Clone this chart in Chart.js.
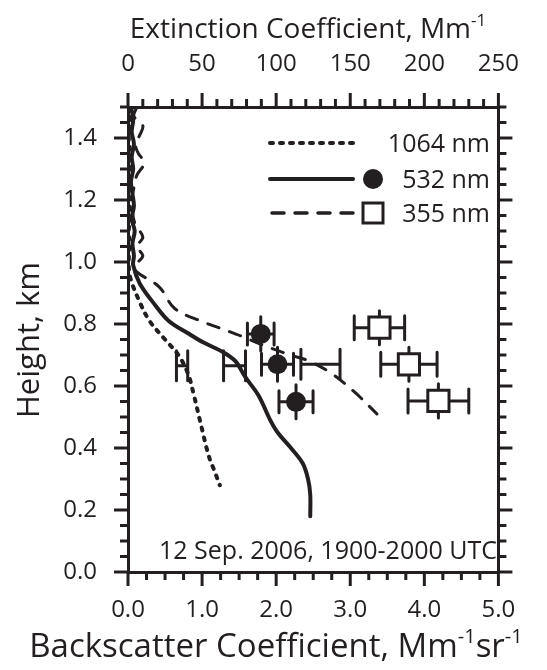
<!DOCTYPE html>
<html>
<head>
<meta charset="utf-8">
<script src="https://cdn.jsdelivr.net/npm/chart.js@4.4.0/dist/chart.umd.min.js"></script>
<style>
  html, body { margin: 0; padding: 0; background: #fff; }
  #wrap { width: 547px; height: 670px; }
</style>
</head>
<body>
<div id="wrap"><canvas id="profileChart"></canvas></div>
<script>
// backscatter profiles (Mm-1 sr-1) vs height (km)
const heights1064 = [1.50, 1.45, 1.40, 1.35, 1.30, 1.25, 1.20, 1.15, 1.10, 1.05, 1.00, 0.95, 0.87, 0.81, 0.75, 0.70, 0.64, 0.57, 0.49, 0.45, 0.40, 0.36, 0.33, 0.28];
const back1064 = [0.02, 0.03, 0.01, 0.03, 0.02, 0.01, 0.02, 0.03, 0.01, 0.02, 0.01, 0.03, 0.16, 0.29, 0.50, 0.68, 0.81, 0.89, 0.97, 1.01, 1.06, 1.11, 1.16, 1.24];

const heights532 = [1.50, 1.46, 1.42, 1.38, 1.34, 1.30, 1.26, 1.22, 1.18, 1.14, 1.10, 1.06, 1.02, 0.99, 0.93, 0.86, 0.81, 0.77, 0.74, 0.71, 0.68, 0.63, 0.57, 0.49, 0.45, 0.40, 0.35, 0.30, 0.25, 0.18];
const back532 = [0.04, 0.07, 0.05, 0.08, 0.05, 0.07, 0.04, 0.06, 0.08, 0.05, 0.09, 0.06, 0.08, 0.07, 0.16, 0.37, 0.55, 0.81, 1.02, 1.28, 1.45, 1.58, 1.76, 1.92, 2.02, 2.20, 2.36, 2.43, 2.46, 2.46];

const heights355 = [1.50, 1.47, 1.44, 1.41, 1.38, 1.35, 1.32, 1.28, 1.24, 1.20, 1.16, 1.12, 1.08, 1.05, 1.02, 0.99, 0.97, 0.92, 0.85, 0.81, 0.78, 0.76, 0.73, 0.70, 0.68, 0.64, 0.58, 0.51];
const back355 = [0.12, 0.08, 0.20, 0.16, 0.10, 0.14, 0.22, 0.12, 0.08, 0.05, 0.06, 0.10, 0.20, 0.12, 0.20, 0.10, 0.11, 0.42, 0.63, 0.98, 1.32, 1.54, 1.84, 2.19, 2.45, 2.75, 3.06, 3.36];

// extinction points (Mm-1) with errors
const ext532 = [89.6, 100.9, 113.4];
const h532 = [0.768, 0.670, 0.549];
const err532 = [9.0, 10.8, 11.5];

const ext355 = [169.7, 189.6, 209.5];
const h355 = [0.788, 0.670, 0.552];
const err355 = [17.0, 19.0, 20.5];

const ext1064 = [36.5, 71.9, 129.9];
const h1064 = [0.665, 0.665, 0.670];
const err1064 = [3.8, 7.4, 13.2];

const heightErr = 0.055;

const backTicks = [0, 1, 2, 3, 4, 5];
const extTicks = [0, 50, 100, 150, 200, 250];
const heightTicks = [0, 0.2, 0.4, 0.6, 0.8, 1.0, 1.2, 1.4];

const ink = '#231f20';
const fontFam = '"Open Sans", "DejaVu Sans", sans-serif';

function pts(xs, ys) {
    return xs.map((x, i) => ({ x: x, y: ys[i] }));
}

// superscript-aware text
function drawRich(ctx, parts, x, y, size, align) {
    const supSize = Math.round(size * 0.6);
    let total = 0;
    parts.forEach(p => {
        ctx.font = (p.sup ? supSize : size) + 'px ' + fontFam;
        p.w = ctx.measureText(p.t).width;
        total += p.w;
    });
    let cx = align === 'center' ? x - total / 2 : (align === 'right' ? x - total : x);
    parts.forEach(p => {
        ctx.font = (p.sup ? supSize : size) + 'px ' + fontFam;
        ctx.textAlign = 'left';
        ctx.textBaseline = 'alphabetic';
        ctx.fillText(p.t, cx, p.sup ? y - size * 0.42 : y);
        cx += p.w;
    });
}

function tickRow(ctx, scale, minor, major, side, area) {
    const n = Math.round((scale.max - scale.min) / minor);
    for (let i = 0; i <= n; i++) {
        const v = scale.min + i * minor;
        const r = v / major;
        const isMajor = Math.abs(r - Math.round(r)) < 1e-6;
        const len = isMajor ? 14 : 8;
        const p = scale.getPixelForValue(v);
        ctx.beginPath();
        if (side === 'bottom') { ctx.moveTo(p, area.bottom); ctx.lineTo(p, area.bottom + len); }
        if (side === 'top') { ctx.moveTo(p, area.top); ctx.lineTo(p, area.top - len); }
        if (side === 'left') { ctx.moveTo(area.left, p); ctx.lineTo(area.left - len, p); }
        if (side === 'right') { ctx.moveTo(area.right, p); ctx.lineTo(area.right + len, p); }
        ctx.stroke();
    }
}

const ticksPlugin = {
    id: 'ticksPlugin',
    afterDraw(chart) {
        const { ctx, chartArea: area, scales } = chart;
        ctx.save();
        ctx.strokeStyle = ink;
        ctx.lineWidth = 3;
        ctx.lineCap = 'butt';
        tickRow(ctx, scales.x, 0.25, 1, 'bottom', area);
        tickRow(ctx, scales.x2, 10, 50, 'top', area);
        tickRow(ctx, scales.y, 0.05, 0.2, 'left', area);
        tickRow(ctx, scales.y2, 0.05, 0.2, 'right', area);
        ctx.restore();
    }
};

const errorBars = {
    id: 'errorBars',
    beforeDatasetsDraw(chart) {
        const { ctx, scales: { x2, y } } = chart;
        const groups = [
            { ext: ext532, hgt: h532, err: err532, cap: 11, vert: true },
            { ext: ext355, hgt: h355, err: err355, cap: 12, vert: true },
            { ext: ext1064, hgt: h1064, err: err1064, cap: 15, vert: false }
        ];
        ctx.save();
        ctx.strokeStyle = ink;
        ctx.lineWidth = 3;
        ctx.lineCap = 'round';
        groups.forEach(g => {
            g.ext.forEach((e, i) => {
                const py = y.getPixelForValue(g.hgt[i]);
                const lo = x2.getPixelForValue(e - g.err[i]);
                const hi = x2.getPixelForValue(e + g.err[i]);
                ctx.beginPath();
                ctx.moveTo(lo, py); ctx.lineTo(hi, py);
                ctx.moveTo(lo, py - g.cap); ctx.lineTo(lo, py + g.cap);
                ctx.moveTo(hi, py - g.cap); ctx.lineTo(hi, py + g.cap);
                if (g.vert) {
                    const px = x2.getPixelForValue(e);
                    ctx.moveTo(px, y.getPixelForValue(g.hgt[i] + heightErr));
                    ctx.lineTo(px, y.getPixelForValue(g.hgt[i] - heightErr));
                }
                ctx.stroke();
            });
        });
        ctx.restore();
    }
};

const textPlugin = {
    id: 'textPlugin',
    afterDraw(chart) {
        const { ctx } = chart;
        ctx.save();
        ctx.fillStyle = ink;
        ctx.strokeStyle = ink;

        // titles
        drawRich(ctx, [{ t: 'Extinction Coefficient, Mm' }, { t: '-1', sup: true }], 308, 38, 28, 'center');
        drawRich(ctx, [{ t: 'Backscatter Coefficient, Mm' }, { t: '-1', sup: true }, { t: 'sr' }, { t: '-1', sup: true }], 276, 657, 33, 'center');
        ctx.save();
        ctx.translate(39, 340);
        ctx.rotate(-Math.PI / 2);
        drawRich(ctx, [{ t: 'Height, km' }], 0, 0, 31, 'center');
        ctx.restore();

        drawRich(ctx, [{ t: '12 Sep. 2006, 1900-2000 UTC' }], 497, 559, 25, 'right');

        // legend
        const lx0 = 270, lx1 = 353, mx = 373, tx = 490;
        const rows = [143, 179, 213];
        ctx.lineCap = 'round';
        ctx.lineWidth = 4;
        ctx.setLineDash([3, 7]);
        ctx.beginPath(); ctx.moveTo(lx0, rows[0]); ctx.lineTo(lx1, rows[0]); ctx.stroke();
        ctx.setLineDash([]);
        ctx.beginPath(); ctx.moveTo(lx0, rows[1]); ctx.lineTo(lx1, rows[1]); ctx.stroke();
        ctx.lineWidth = 3.5;
        ctx.setLineDash([12, 11]);
        ctx.beginPath(); ctx.moveTo(lx0 + 2, rows[2]); ctx.lineTo(lx1, rows[2]); ctx.stroke();
        ctx.setLineDash([]);
        ctx.beginPath(); ctx.arc(mx, rows[1], 10, 0, Math.PI * 2); ctx.fill();
        ctx.lineWidth = 3;
        ctx.strokeRect(mx - 10, rows[2] - 10, 20, 20);

        drawRich(ctx, [{ t: '1064 nm' }], tx, rows[0] + 9, 25, 'right');
        drawRich(ctx, [{ t: '532 nm' }], tx, rows[1] + 9, 25, 'right');
        drawRich(ctx, [{ t: '355 nm' }], tx, rows[2] + 9, 25, 'right');
        ctx.restore();
    }
};

const tickFont = { family: fontFam, size: 24 };

new Chart(document.getElementById('profileChart'), {
    type: 'line',
    data: {
        datasets: [
            {
                label: '532 nm extinction',
                data: pts(ext532, h532),
                xAxisID: 'x2',
                showLine: false,
                pointStyle: 'circle',
                pointRadius: 10,
                backgroundColor: ink,
                borderColor: ink,
                borderWidth: 0
            },
            {
                label: '355 nm extinction',
                data: pts(ext355, h355),
                xAxisID: 'x2',
                showLine: false,
                pointStyle: 'rect',
                pointRadius: 15,
                backgroundColor: '#ffffff',
                borderColor: ink,
                borderWidth: 3
            },
            {
                label: '1064 nm',
                data: pts(back1064, heights1064),
                borderColor: ink,
                borderWidth: 4,
                borderDash: [3, 7],
                borderCapStyle: 'round',
                pointRadius: 0,
                tension: 0.35,
                fill: false
            },
            {
                label: '532 nm',
                data: pts(back532, heights532),
                borderColor: ink,
                borderWidth: 4,
                borderCapStyle: 'round',
                pointRadius: 0,
                tension: 0.35,
                fill: false
            },
            {
                label: '355 nm',
                data: pts(back355, heights355),
                borderColor: ink,
                borderWidth: 3,
                borderDash: [12, 11],
                borderCapStyle: 'round',
                pointRadius: 0,
                tension: 0.35,
                fill: false
            }
        ]
    },
    options: {
        responsive: true,
        maintainAspectRatio: false,
        animation: false,
        layout: { padding: 0 },
        plugins: { legend: { display: false }, tooltip: { enabled: false } },
        scales: {
            x: {
                type: 'linear', position: 'bottom', min: 0, max: 5,
                afterBuildTicks: s => { s.ticks = backTicks.map(v => ({ value: v })); },
                ticks: { font: tickFont, color: ink, padding: 24, maxRotation: 0, callback: v => v.toFixed(1) },
                grid: { display: false, drawTicks: false },
                border: { display: true, width: 3, color: ink },
                afterFit: s => { s.height = 98; }
            },
            x2: {
                type: 'linear', position: 'top', min: 0, max: 250,
                afterBuildTicks: s => { s.ticks = extTicks.map(v => ({ value: v })); },
                ticks: { font: tickFont, color: ink, padding: 28, maxRotation: 0 },
                grid: { display: false, drawTicks: false },
                border: { display: true, width: 3, color: ink },
                afterFit: s => { s.height = 107; }
            },
            y: {
                type: 'linear', position: 'left', min: 0, max: 1.5,
                afterBuildTicks: s => { s.ticks = heightTicks.map(v => ({ value: v })); },
                ticks: { font: tickFont, color: ink, padding: 31, callback: v => v.toFixed(1) },
                grid: { display: false, drawTicks: false },
                border: { display: true, width: 3, color: ink },
                afterFit: s => { s.width = 128; }
            },
            y2: {
                type: 'linear', position: 'right', min: 0, max: 1.5,
                ticks: { display: false },
                grid: { display: false, drawTicks: false },
                border: { display: true, width: 3, color: ink },
                afterFit: s => { s.width = 35; }
            }
        }
    },
    plugins: [errorBars, ticksPlugin, textPlugin]
});
</script>
</body>
</html>
